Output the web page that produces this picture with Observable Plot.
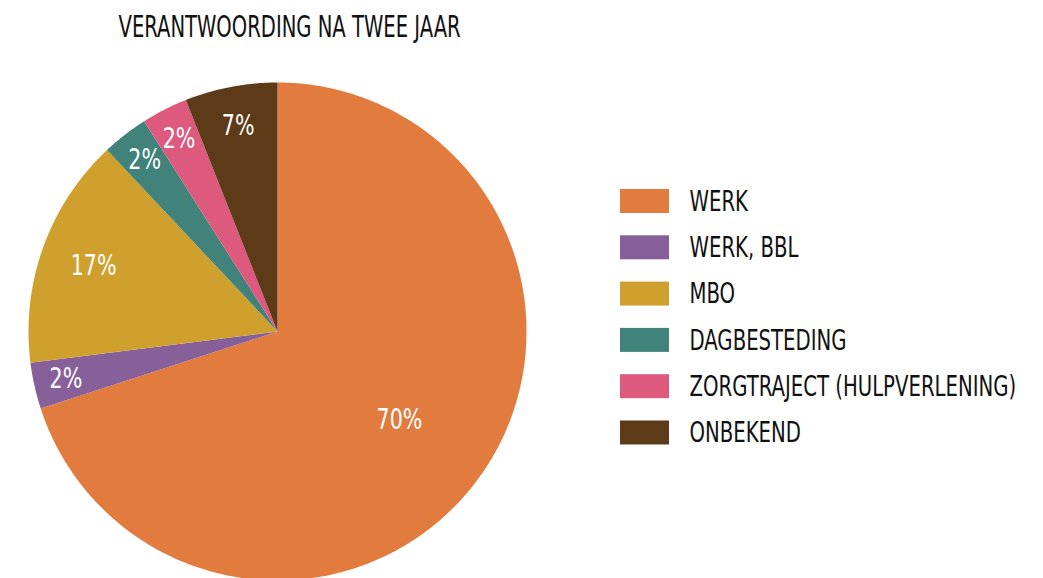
<!DOCTYPE html>
<html><head><meta charset="utf-8">
<script src="https://cdn.jsdelivr.net/npm/d3@7"></script>
<script src="https://cdn.jsdelivr.net/npm/@observablehq/plot@0.6"></script>
<style>body{margin:0;background:#fff}</style>
</head><body><div id="chart"></div>
<script>
const categories = ["WERK","WERK, BBL","MBO","DAGBESTEDING","ZORGTRAJECT (HULPVERLENING)","ONBEKEND"];
const values = [70, 3, 15, 3, 3, 6];
const labels = ["70%","2%","17%","2%","2%","7%"];
const colors = ["#E27B3E","#87609A","#CFA02D","#41827B","#DD5A7E","#5E3B18"];
const title = "VERANTWOORDING NA TWEE JAAR";

const W = 1043, H = 578, cx = 277, cy = 331, R = 249;
const FONT = "'Liberation Sans Narrow', 'DejaVu Sans Condensed', 'Arial Narrow', sans-serif";
const total = d3.sum(values);
let acc = 0;
const slices = values.map((v, i) => {
  const a0 = acc / total * 2 * Math.PI; acc += v;
  const a1 = acc / total * 2 * Math.PI;
  return {cat: categories[i], a0, a1, share: v / total, label: labels[i]};
});
const pts = [];
slices.forEach(s => {
  pts.push({cat: s.cat, x: cx, y: cy});
  const n = Math.max(2, Math.ceil((s.a1 - s.a0) / 0.01));
  for (let k = 0; k <= n; k++) {
    const a = s.a0 + (s.a1 - s.a0) * k / n;
    pts.push({cat: s.cat, x: cx + R * Math.sin(a), y: cy - R * Math.cos(a)});
  }
  pts.push({cat: s.cat, x: cx, y: cy});
});
const labelPts = slices.map(s => {
  const a = (s.a0 + s.a1) / 2, r = R * (0.94 - 0.4 * Math.sqrt(s.share));
  return {label: s.label, x: cx + r * Math.sin(a), y: cy - r * Math.cos(a)};
});
const lgX = 620, lgY0 = 201, lgStep = 46.3, swW = 49, swH = 24, lgTextX = 689;
const legend = categories.map((c, i) => ({cat: c, y: lgY0 + i * lgStep}));

const chart = Plot.plot({
  width: W, height: H, margin: 0,
  x: {domain: [0, W], range: [0, W], axis: null},
  y: {domain: [0, H], range: [0, H], axis: null},
  color: {domain: categories, range: colors},
  style: {fontFamily: FONT, background: "#fff"},
  marks: [
    Plot.line(pts, {x: "x", y: "y", z: "cat", fill: "cat", stroke: null, curve: "linear"}),
    Plot.text(labelPts, {x: "x", y: "y", text: "label", fill: "white", fontSize: 29, textAnchor: "middle", className: "lab"}),
    Plot.rect(legend, {x1: () => lgX, x2: () => lgX + swW, y1: d => d.y - swH / 2, y2: d => d.y + swH / 2, fill: "cat"}),
    Plot.text(legend, {x: () => lgTextX, y: "y", text: "cat", fill: "#111", fontSize: 29, textAnchor: "start", className: "leg"}),
    Plot.text([title], {x: () => 118, y: () => 27, text: d => d, fill: "#111", fontSize: 30, textAnchor: "start", className: "ttl"})
  ]
});
document.getElementById("chart").appendChild(chart);
// horizontally condense text about its anchor point (narrow display face look)
function squeeze(sel, f) {
  chart.querySelectorAll(sel + " text").forEach(t => {
    const ax = parseFloat(t.getAttribute("x") || 0);
    const tr = t.getAttribute("transform") || "";
    t.setAttribute("transform", `${tr} translate(${ax},0) scale(${f},1) translate(${-ax},0)`);
  });
}
squeeze(".ttl", 0.726); squeeze(".leg", 0.755); squeeze(".lab", 0.79);
</script></body></html>
